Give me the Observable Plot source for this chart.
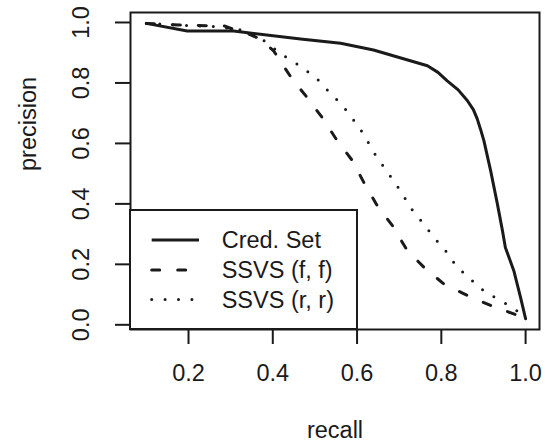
<!DOCTYPE html>
<html><head><meta charset="utf-8">
<script src="https://cdn.jsdelivr.net/npm/d3@7"></script>
<script src="https://cdn.jsdelivr.net/npm/@observablehq/plot@0.6"></script>
<style>html,body{margin:0;padding:0;background:#fff} svg{display:block}</style>
</head><body><div id="chart"></div>
<script>
// ---- data ----
const seriesNames = ["Cred. Set", "SSVS (f, f)", "SSVS (r, r)"];

const recallCred = [0.1, 0.197, 0.307, 0.466, 0.561, 0.639, 0.767, 0.792, 0.814, 0.84, 0.862, 0.876, 0.885, 0.893, 0.901, 0.917, 0.933, 0.945, 0.952, 0.972, 0.988, 1.0];
const precCred   = [0.997, 0.972, 0.972, 0.945, 0.931, 0.909, 0.857, 0.835, 0.807, 0.777, 0.741, 0.712, 0.682, 0.647, 0.609, 0.510, 0.400, 0.312, 0.256, 0.179, 0.091, 0.02];

const recallFF = [0.1, 0.2, 0.284, 0.311, 0.343, 0.371, 0.402, 0.446, 0.478, 0.517, 0.553, 0.589, 0.616, 0.648, 0.684, 0.719, 0.759, 0.806, 0.862, 0.917, 0.972, 1.0];
const precFF   = [0.997, 0.99, 0.989, 0.975, 0.962, 0.945, 0.906, 0.813, 0.758, 0.686, 0.609, 0.543, 0.471, 0.394, 0.328, 0.246, 0.19, 0.135, 0.097, 0.064, 0.036, 0.02];

const recallRR = [0.1, 0.193, 0.256, 0.33, 0.377, 0.424, 0.452, 0.478, 0.504, 0.525, 0.547, 0.569, 0.587, 0.606, 0.623, 0.638, 0.656, 0.674, 0.691, 0.709, 0.723, 0.743, 0.763, 0.781, 0.802, 0.82, 0.838, 0.862, 0.881, 0.905, 0.933, 0.957, 0.979, 1.0];
const precRR   = [0.997, 0.99, 0.987, 0.975, 0.942, 0.892, 0.868, 0.843, 0.815, 0.783, 0.752, 0.719, 0.686, 0.651, 0.612, 0.574, 0.537, 0.502, 0.468, 0.431, 0.394, 0.359, 0.326, 0.29, 0.26, 0.226, 0.188, 0.163, 0.135, 0.108, 0.086, 0.067, 0.047, 0.02];

const xTicks = [0.2, 0.4, 0.6, 0.8, 1.0];
const yTicks = [0.0, 0.2, 0.4, 0.6, 0.8, 1.0];
const xLabel = "recall";
const yLabel = "precision";

// ---- layout / style ----
const W = 545, H = 448, mL = 130, mR = 6, mT = 12, mB = 119;
const font = "'Liberation Sans', Arial, Helvetica, sans-serif";
const ink = "#1a1a1a";
const fs = 23.5;
const lineStyles = [
  {strokeWidth: 3},
  {strokeWidth: 3, strokeDasharray: "8,18", strokeLinecap: "round"},
  {strokeWidth: 3, strokeDasharray: "0,13.4", strokeLinecap: "round"}
];

const rows = (xs, ys) => xs.map((x, i) => ({recall: x, precision: ys[i]}));
const series = [rows(recallCred, precCred), rows(recallFF, precFF), rows(recallRR, precRR)];
const fmt = d3.format(".1f");

const chart = Plot.plot({
  width: W, height: H,
  marginLeft: mL, marginRight: mR, marginTop: mT, marginBottom: mB,
  style: {fontFamily: font, fontSize: fs + "px", color: ink, background: "#fff"},
  x: {domain: [0.0623, 1.033]},
  y: {domain: [-0.0155, 1.033]},
  marks: [
    ...series.map((s, i) => Plot.line(s, {x: "recall", y: "precision", stroke: ink, strokeLinejoin: "round", ...lineStyles[i]})),
    Plot.frame({stroke: ink, strokeWidth: 2}),
    Plot.axisX({ticks: xTicks, tickSize: 15, tickPadding: 20, tickFormat: fmt, label: null, fontSize: fs, color: ink, strokeWidth: 2}),
    Plot.axisY({ticks: yTicks, tickSize: 15, tickPadding: 27, tickRotate: -90, tickFormat: fmt, label: null, fontSize: fs, color: ink, strokeWidth: 2}),
    Plot.text([xLabel], {text: d => d, frameAnchor: "bottom", dy: 108, fontSize: fs, fill: ink}),
    Plot.text([yLabel], {text: d => d, frameAnchor: "left", dx: -102, rotate: -90, fontSize: fs, fill: ink})
  ]
});

// ---- legend (bottom-left, inside the plot frame) ----
const svg = d3.select(chart);
const bx = mL, bw = 227, bh = 119, by = H - mB - bh;
const g = svg.append("g").attr("font-family", font).attr("font-size", fs).attr("text-anchor", "start");
g.append("rect").attr("x", bx).attr("y", by).attr("width", bw).attr("height", bh)
  .attr("fill", "#fff").attr("stroke", ink).attr("stroke-width", 2);
const rowY = [30, 60, 89.5];
seriesNames.forEach((name, i) => {
  const y = by + rowY[i];
  const st = lineStyles[i];
  const ln = g.append("line").attr("x1", bx + 21.7).attr("x2", bx + 69).attr("y1", y).attr("y2", y)
    .attr("stroke", ink).attr("stroke-width", st.strokeWidth);
  if (st.strokeDasharray) ln.attr("stroke-dasharray", st.strokeDasharray).attr("stroke-linecap", st.strokeLinecap);
  g.append("text").attr("x", bx + 91.7).attr("y", y).attr("dy", "0.35em").attr("text-anchor", "start").attr("fill", ink).text(name);
});

document.getElementById("chart").appendChild(chart);
</script>
</body></html>
